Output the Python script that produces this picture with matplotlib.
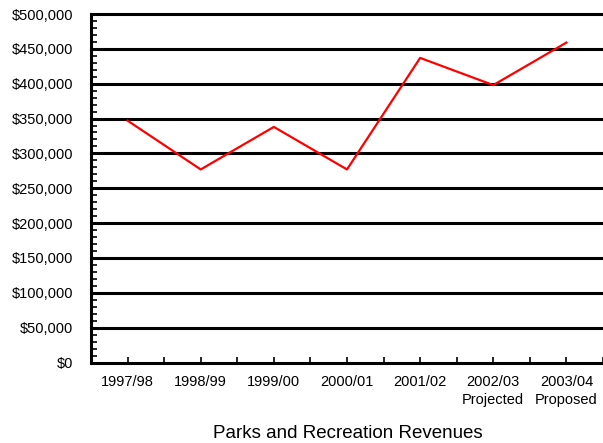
import numpy as np
import matplotlib.pyplot as plt
from matplotlib.ticker import MultipleLocator, FuncFormatter

plt.rcParams['font.family'] = ['Liberation Sans', 'DejaVu Sans']

# fiscal years and revenue figures
years = ["1997/98", "1998/99", "1999/00", "2000/01", "2001/02",
         "2002/03\nProjected", "2003/04\nProposed"]
revenues = [347000, 277000, 338000, 277000, 437000, 398000, 459000]

W, H = 603, 443
fig = plt.figure(figsize=(W / 100, H / 100), dpi=100)
ax = fig.add_axes([91 / W, 1 - 362.5 / H, 1 - 91 / W, (362.5 - 14) / H])

x = np.arange(len(years))
ax.plot(x, revenues, color='#ff0000', lw=1.6, zorder=3)

ax.set_xlim(-0.5, 6.46)
ax.set_ylim(0, 500000)

# heavy horizontal gridlines every $50,000
for v in range(50000, 500001, 50000):
    ax.axhline(v, color='black', lw=2.2, zorder=2, clip_on=False)

ax.yaxis.set_major_locator(MultipleLocator(50000))
ax.yaxis.set_minor_locator(MultipleLocator(10000))
ax.yaxis.set_major_formatter(FuncFormatter(lambda v, p: "${:,.0f}".format(v)))
ax.set_xticks(x)
ax.set_xticklabels(years, linespacing=1.35)
ax.set_xticks(np.arange(-0.5, 6.6, 0.5), minor=True)

ax.tick_params(axis='y', which='both', direction='in', length=4, width=1.2,
               labelsize=10.5, pad=13, colors='black')
ax.tick_params(axis='x', which='both', direction='in', length=4, width=1.2,
               labelsize=10.5, pad=9)

for s in ['top', 'right']:
    ax.spines[s].set_visible(False)
for s in ['left', 'bottom']:
    ax.spines[s].set_linewidth(2.2)

fig.text(348 / W, 1 - 433 / H, "Parks and Recreation Revenues",
         ha='center', va='center', fontsize=13.5)

fig.savefig("out.png", dpi=100)
